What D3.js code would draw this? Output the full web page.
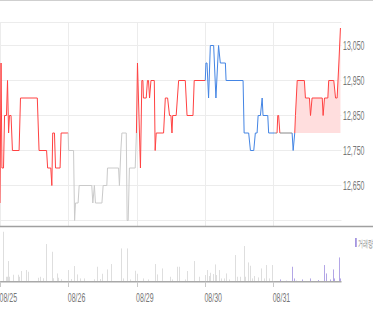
<!DOCTYPE html>
<html>
<head>
<meta charset="utf-8">
<title>Intraday price</title>
<script src="https://d3js.org/d3.v7.min.js"></script>
<style>
body { margin: 0; background: #fff; }
svg { display: block; }
text { font-family: "Liberation Sans", Arial, sans-serif; fill: #777; }
</style>
</head>
<body>
<div id="chart"></div>
<script>
// 5 sessions, 390 trading minutes each
var days = ["08/25", "08/26", "08/29", "08/30", "08/31"];
var sessionMinutes = 390;
var priceTicks = [12550, 12650, 12750, 12850, 12950, 13050];

// minute offset from first session open
var times = [
    0, 6, 11, 20, 26, 37, 43, 49, 54, 63, 71, 109, 117, 213, 223, 266, 272, 290, 296, 301, 311, 317, 343, 349, 389,
    392, 420, 426, 431, 446, 452, 524, 530, 539, 545, 582, 589, 610, 614, 677, 682, 690, 696, 721, 726, 732, 739, 772, 779,
    785, 802, 810, 816, 819, 835, 842, 848, 854, 862, 881, 886, 892, 934, 944, 957, 968, 976, 982, 986, 1006, 1020, 1058, 1068, 1102, 1109, 1172,
    1176, 1182, 1191, 1201, 1220, 1233, 1248, 1258, 1287, 1291, 1388, 1394, 1420, 1430, 1449, 1458, 1468, 1474, 1487, 1497, 1502, 1529, 1534, 1569,
    1582, 1586, 1591, 1598, 1668, 1674, 1683, 1687, 1697, 1738, 1744, 1767, 1773, 1782, 1840, 1845, 1853, 1872, 1877, 1906, 1916, 1925, 1935, 1944
];
var prices = [
    12600, 13000, 12700, 12700, 12850, 12850, 12950, 12800, 12850, 12850, 12750, 12750, 12900, 12900, 12750, 12750, 12700, 12700, 12650, 12800, 12800, 12700, 12700, 12800, 12800,
    12750, 12750, 12550, 12600, 12600, 12650, 12650, 12600, 12650, 12600, 12600, 12650, 12650, 12700, 12700, 12650, 12750, 12800, 12800, 12550, 12550, 12700, 12700, 12800,
    13000, 12700, 12950, 12950, 12900, 12900, 12950, 12950, 12900, 12950, 12950, 12750, 12800, 12800, 12900, 12900, 12850, 12850, 12800, 12850, 12850, 12950, 12950, 12850, 12850, 12950, 12950,
    13000, 13000, 12900, 13050, 13050, 12900, 13050, 13000, 13000, 12950, 12950, 12800, 12800, 12750, 12750, 12800, 12800, 12850, 12850, 12900, 12850, 12850, 12800, 12800,
    12800, 12850, 12850, 12800, 12800, 12750, 12800, 12850, 12950, 12950, 12900, 12900, 12850, 12900, 12900, 12850, 12900, 12900, 12950, 12950, 12900, 12900, 13000, 13100
];
// u = up, d = down, e = even, g = past session (greyed)
var states = (
    "uuuuuuuuuuuuuuuuuuuuuuuuu" +
    "gggggggggggggggggggggggg" +
    "uuuuuuuuuuuuuuuuuuuuuuuuuuu" +
    "dddddddddddddddddddddddd" +
    "euuuedduuuuuuuuuuuuuuuuu"
).split("");

var volTimes = [
    15, 34, 42, 48, 53, 73, 105, 110, 118, 149, 158, 219, 229, 244, 263, 296, 305, 324, 330, 349,
    391, 404, 423, 439, 457, 482, 538, 553, 572, 582, 610, 633, 690, 702, 725, 743, 772,
    782, 819, 846, 886, 896, 925, 972, 982, 1010, 1020, 1058, 1068, 1105, 1134, 1168,
    1182, 1191, 1201, 1214, 1225, 1235, 1248, 1262, 1277, 1292, 1306, 1344, 1354, 1372, 1395, 1401, 1416, 1426, 1439, 1452, 1471, 1491, 1510, 1521, 1534, 1554,
    1597, 1635, 1668, 1677, 1693, 1725, 1769, 1814, 1849, 1859, 1864, 1883, 1902, 1910, 1935, 1944
];
var volumes = [
    50000, 5000, 5000, 20700, 5000, 7000, 7000, 5000, 10700, 11700, 10000, 4000, 5000, 3500, 37700, 30000, 3500, 8300, 4000, 2500,
    11700, 2700, 15700, 7300, 3300, 3300, 2500, 15000, 2700, 8000, 12300, 17700, 33300, 3300, 33300, 2300, 11000,
    8000, 3300, 2300, 17700, 7300, 13300, 5000, 2300, 15000, 15000, 2300, 10700, 20700, 5000, 6700,
    11700, 5700, 9000, 7700, 17300, 6700, 11700, 3300, 3300, 8300, 2300, 26700, 5000, 5000, 35700, 5000, 19300, 16000, 3300, 5700, 4300, 13300, 3300, 16700, 3300, 16700,
    2300, 1000, 15000, 3300, 1000, 2300, 3300, 1700, 16700, 8300, 6700, 2300, 12300, 3300, 24300, 3300
];
var volumeLabel = "거래량";

var colors = { u: "#ff4242", d: "#4485e4", e: "#888888", g: "#cacaca" };

var W = 373, H = 310;
var plotRight = 341.5;
var totalMinutes = days.length * sessionMinutes;

var svg = d3.select("#chart").append("svg")
    .attr("width", W).attr("height", H);

var x = d3.scaleLinear().domain([0, totalMinutes]).range([0, plotRight]);
var y = d3.scaleLinear().domain([12550, 13050]).range([220.5, 45.5]);
var v = d3.scaleLinear().domain([0, 50000]).range([0, 50]);
var volBase = 281.75;

// frame
svg.append("line").attr("x1", 0).attr("x2", W).attr("y1", 0.5).attr("y2", 0.5)
    .attr("stroke", "#cfcfcf");

// gridlines
var grid = svg.append("g").attr("stroke", "#ececec");
grid.append("line").attr("x1", 0).attr("x2", plotRight).attr("y1", 22.5).attr("y2", 22.5);
grid.selectAll(".h").data(priceTicks).enter().append("line")
    .attr("x1", 0).attr("x2", plotRight)
    .attr("y1", function(d) { return y(d); }).attr("y2", function(d) { return y(d); });
grid.selectAll(".v").data(days).enter().append("line")
    .attr("x1", function(d, i) { return Math.round(x(i * sessionMinutes)) + 0.5; })
    .attr("x2", function(d, i) { return Math.round(x(i * sessionMinutes)) + 0.5; })
    .attr("y1", 22).attr("y2", 226);

// price labels on the right
svg.append("g").selectAll("text")
    .data(priceTicks.filter(function(d) { return d > 12550; }))
    .enter().append("text")
    .attr("transform", function(d) { return "translate(343," + (y(d) + 4.8) + ") scale(0.52,1)"; })
    .attr("font-size", 13.5)
    .text(function(d) { return d3.format(",")(d); });

var pts = times.map(function(t, i) { return { t: t, p: prices[i], s: states[i] }; });

// area above previous close for the live session
var lastStart = (days.length - 1) * sessionMinutes;
var prevClose = pts.filter(function(d) { return d.t < lastStart; }).pop().p;
var today = pts.filter(function(d) { return d.t >= lastStart; });
var lastBelow = 0;
today.forEach(function(d, i) { if (d.p < prevClose) lastBelow = i; });
var fillPts = today.slice(lastBelow);

svg.append("path")
    .datum(fillPts)
    .attr("fill", "#ffdede")
    .attr("d", d3.area()
        .x(function(d) { return x(d.t); })
        .y0(y(prevClose))
        .y1(function(d) { return y(Math.max(d.p, prevClose)); }));

// price line, split into runs by state
var runs = [];
for (var i = 1; i < pts.length; i++) {
    var last = runs[runs.length - 1];
    if (last && last.s === pts[i].s) {
        last.pts.push(pts[i]);
    } else {
        runs.push({ s: pts[i].s, pts: [pts[i - 1], pts[i]] });
    }
}
var line = d3.line().x(function(d) { return x(d.t); }).y(function(d) { return y(d.p); });
svg.append("g").selectAll("path")
    .data(runs).enter().append("path")
    .attr("fill", "none")
    .attr("stroke", function(d) { return colors[d.s]; })
    .attr("stroke-width", 1)
    .attr("d", function(d) { return line(d.pts); });

// divider under the price panel
svg.append("line").attr("x1", 0).attr("x2", W).attr("y1", 226.5).attr("y2", 226.5)
    .attr("stroke", "#a0a0a0").attr("stroke-width", 1.6);

// volume bars
svg.append("g").selectAll("line")
    .data(volTimes).enter().append("line")
    .attr("x1", function(d) { return Math.round(x(d)) + 0.5; })
    .attr("x2", function(d) { return Math.round(x(d)) + 0.5; })
    .attr("y1", volBase)
    .attr("y2", function(d, i) { return volBase - v(volumes[i]); })
    .attr("stroke", function(d) { return d >= lastStart ? "#b3a6e6" : "#dedede"; });

svg.append("line").attr("x1", 0).attr("x2", plotRight).attr("y1", volBase).attr("y2", volBase)
    .attr("stroke", "#a8a8a8").attr("stroke-width", 1.5);

// day ticks and labels
var axis = svg.append("g");
axis.selectAll("line").data(days).enter().append("line")
    .attr("x1", function(d, i) { return Math.round(x(i * sessionMinutes)) + 0.5; })
    .attr("x2", function(d, i) { return Math.round(x(i * sessionMinutes)) + 0.5; })
    .attr("y1", volBase).attr("y2", 287)
    .attr("stroke", "#c8c8c8");
axis.selectAll("text").data(days).enter().append("text")
    .attr("transform", function(d, i) { return "translate(" + (x(i * sessionMinutes) - 0.5) + ",301.5) scale(0.52,1)"; })
    .attr("font-size", 13.5)
    .text(function(d) { return d; });

// legend
svg.append("rect").attr("x", 355).attr("y", 238).attr("width", 1.8).attr("height", 9)
    .attr("fill", "#a596e0");
svg.append("text")
    .attr("transform", "translate(357.5,246.5) scale(0.5,1)")
    .attr("font-size", 10)
    .attr("font-family", "'Noto Sans CJK KR', sans-serif")
    .style("fill", "#888")
    .text(volumeLabel);
</script>
</body>
</html>
